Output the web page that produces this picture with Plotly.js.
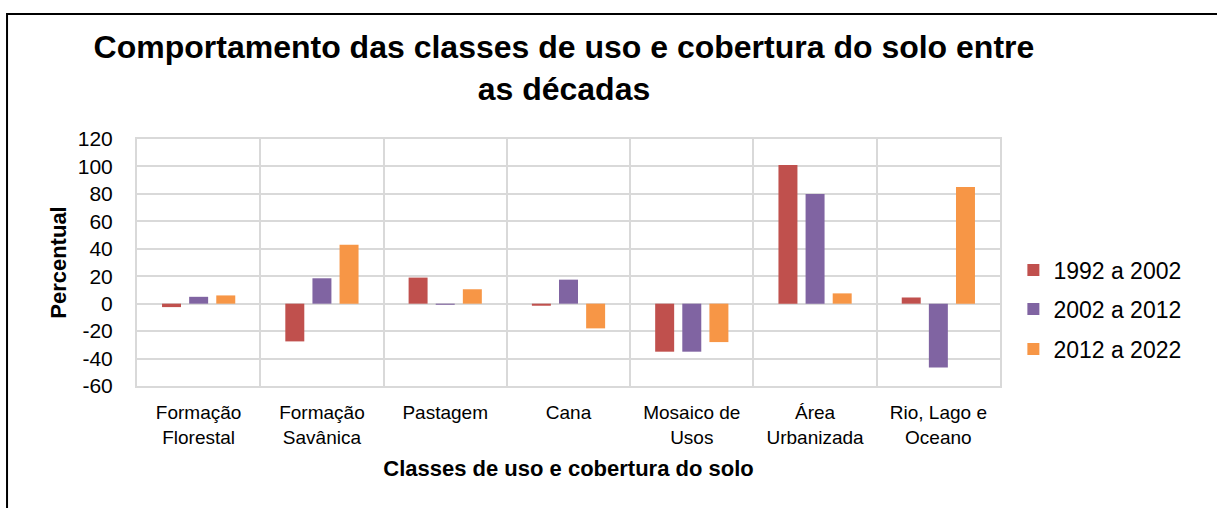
<!DOCTYPE html>
<html>
<head>
<meta charset="utf-8">
<script src="https://cdn.plot.ly/plotly-3.0.1.min.js"></script>
<style>
html,body{margin:0;padding:0;background:#fff;}
#chart{width:1217px;height:508px;}
</style>
</head>
<body>
<div id="chart"></div>
<script>
var categories = ['Formação<br>Florestal','Formação<br>Savânica','Pastagem','Cana','Mosaico de<br>Usos','Área<br>Urbanizada','Rio, Lago e<br>Oceano'];
var seriesNames = ['1992 a 2002','2002 a 2012','2012 a 2022'];
var s1992 = [-2.5, -27.5, 19, -1.5, -35, 101, 4.5];
var s2002 = [5, 18.5, -0.8, 17.5, -35, 80, -46.5];
var s2012 = [6, 43, 10.5, -18, -28, 7.5, 85];
var colors = ['#C0504D','#8064A2','#F79646'];
var yTicks = [-60,-40,-20,0,20,40,60,80,100,120];

var FONT = '"Liberation Sans", Arial, sans-serif';
var series = [s1992, s2002, s2012];
var legendIds = ['legend','legend2','legend3'];
var traces = series.map(function(vals, i){
  return {
    type:'bar', x:categories, y:vals, name:seriesNames[i],
    marker:{color:colors[i]}, legend:legendIds[i], showlegend:true, hoverinfo:'x+y+name'
  };
});

var legBase = {x:1.0155, xanchor:'left', yanchor:'middle', font:{family:FONT,size:23,color:'#000'}, bgcolor:'rgba(0,0,0,0)', itemwidth:30, visible:true};
function leg(y){ var o = JSON.parse(JSON.stringify(legBase)); o.y = y; return o; }

var layout = {
  width:1217, height:508,
  showlegend:true,
  margin:{l:137, r:217, t:139, b:122, pad:0},
  paper_bgcolor:'#fff', plot_bgcolor:'#fff',
  barmode:'group', bargap:0.34, bargroupgap:0.3,
  font:{family:FONT, color:'#000'},
  title:{text:'<b>Comportamento das classes de uso e cobertura do solo entre<br>as décadas</b>',
         font:{family:FONT,size:32,color:'#000'}, x:0.4634, xanchor:'center', xref:'container',
         y:0.886, yanchor:'top', yref:'container'},
  xaxis:{type:'category', tickson:'boundaries', showgrid:true, gridcolor:'#d9d9d9', gridwidth:2,
         showline:true, linecolor:'#d9d9d9', linewidth:2, mirror:true, ticks:'', ticklabelstandoff:8,
         tickfont:{family:FONT,size:19,color:'#000'},
         title:{text:'<b>Classes de uso e cobertura do solo</b>', font:{family:FONT,size:22,color:'#000'}, standoff:14}},
  yaxis:{range:[-60,120], tickvals:yTicks, ticktext:yTicks.map(String), showgrid:true, gridcolor:'#d9d9d9', gridwidth:2,
         zeroline:true, zerolinecolor:'#d9d9d9', zerolinewidth:2,
         showline:true, linecolor:'#d9d9d9', linewidth:2, mirror:true, ticks:'', ticklabelstandoff:18,
         tickfont:{family:FONT,size:21,color:'#000'},
         title:{text:'<b>Percentual</b>', font:{family:FONT,size:22,color:'#000'}, standoff:5}},
  legend:leg(0.4696), legend2:leg(0.3117), legend3:leg(0.1498),
  shapes:[{type:'rect', xref:'paper', yref:'paper', x0:-0.1506, x1:1.27, y0:-0.56, y1:1.506,
           line:{color:'#000', width:2}, fillcolor:'rgba(0,0,0,0)', layer:'above'}]
};

Plotly.newPlot('chart', traces, layout, {displayModeBar:false, staticPlot:true});
</script>
</body>
</html>
